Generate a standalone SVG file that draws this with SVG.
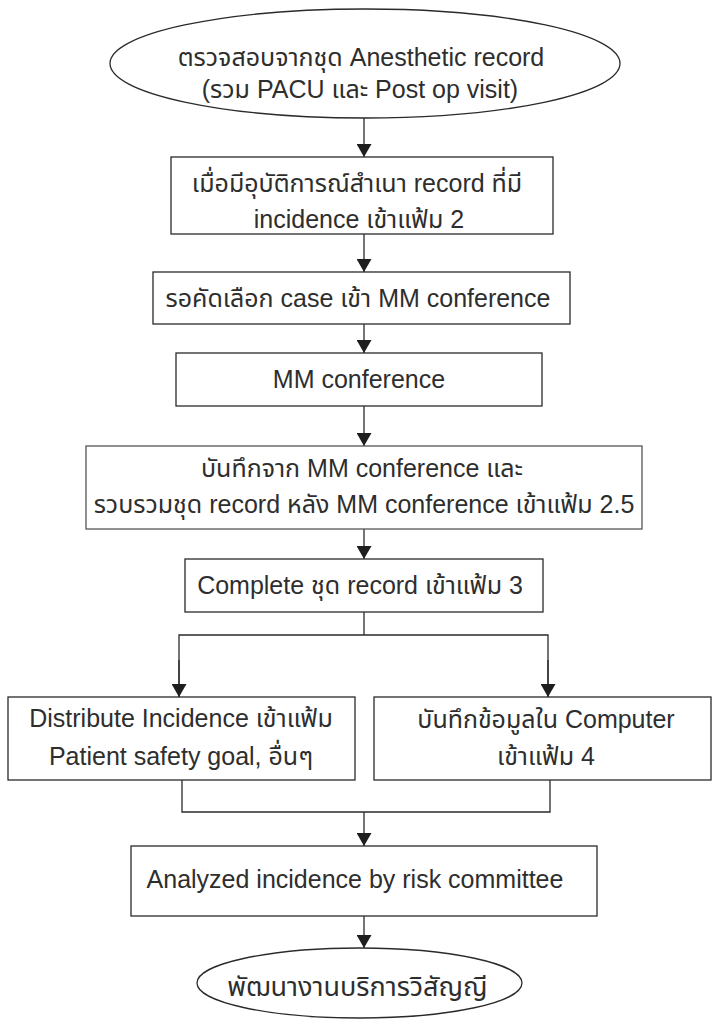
<svg xmlns="http://www.w3.org/2000/svg" width="712" height="1019" viewBox="0 0 712 1019">
  <defs>
    <marker id="arrow" markerUnits="userSpaceOnUse" markerWidth="15" markerHeight="15" refX="13" refY="7.5" orient="auto">
      <path d="M0,0 L13,7.5 L0,15 Z" fill="#1e1e1e"/>
    </marker>
    <style>
      .shape { fill: #ffffff; stroke: #2a2a2a; stroke-width: 1.3; }
      .txt { font-family: "Liberation Sans", "Noto Sans Thai", "Noto Sans", sans-serif; font-size: 25px; fill: #2e2e2e; text-anchor: middle; }
      .conn { fill: none; stroke: #2a2a2a; stroke-width: 1.3; }
    </style>
  </defs>
  <rect width="712" height="1019" fill="#ffffff"/>

  <g id="connectors">
    <line class="conn" x1="364" y1="118" x2="364" y2="157" marker-end="url(#arrow)"/>
    <line class="conn" x1="364" y1="234" x2="364" y2="272" marker-end="url(#arrow)"/>
    <line class="conn" x1="364" y1="324" x2="364" y2="353" marker-end="url(#arrow)"/>
    <line class="conn" x1="364" y1="406" x2="364" y2="446" marker-end="url(#arrow)"/>
    <line class="conn" x1="364" y1="529" x2="364" y2="559" marker-end="url(#arrow)"/>
    <polyline class="conn" points="364,612 364,635"/>
    <polyline class="conn" points="179,697 179,635 548,635 548,697"/>
    <line class="conn" x1="179" y1="660" x2="179" y2="697" marker-end="url(#arrow)"/>
    <line class="conn" x1="548" y1="660" x2="548" y2="697" marker-end="url(#arrow)"/>
    <polyline class="conn" points="182,780 182,812 550,812 550,780"/>
    <line class="conn" x1="364" y1="812" x2="364" y2="846" marker-end="url(#arrow)"/>
    <line class="conn" x1="364" y1="916" x2="364" y2="948" marker-end="url(#arrow)"/>
  </g>

  <g id="start">
    <ellipse class="shape" cx="365" cy="63.5" rx="255" ry="54.5"/>
    <text class="txt" x="361" y="66">ตรวจสอบจากชุด Anesthetic record</text>
    <text class="txt" x="360" y="98">(รวม PACU และ Post op visit)</text>
  </g>

  <g id="copy-record">
    <rect class="shape" x="171" y="157" width="382" height="77"/>
    <text class="txt" x="357" y="192">เมื่อมีอุบัติการณ์สำเนา record ที่มี</text>
    <text class="txt" x="359" y="228">incidence เข้าแฟ้ม 2</text>
  </g>

  <g id="select-case">
    <rect class="shape" x="153" y="272" width="417" height="52"/>
    <text class="txt" x="358" y="307">รอคัดเลือก case เข้า MM conference</text>
  </g>

  <g id="mm-conference">
    <rect class="shape" x="176" y="353" width="366" height="53"/>
    <text class="txt" x="359" y="388">MM conference</text>
  </g>

  <g id="mm-notes">
    <rect class="shape" x="86" y="446" width="556" height="83" style="stroke:#555"/>
    <text class="txt" x="362" y="477">บันทึกจาก  MM conference และ</text>
    <text class="txt" x="364" y="513">รวบรวมชุด record หลัง MM conference เข้าแฟ้ม 2.5</text>
  </g>

  <g id="complete">
    <rect class="shape" x="185" y="559" width="358" height="53"/>
    <text class="txt" x="360" y="594">Complete ชุด record เข้าแฟ้ม 3</text>
  </g>

  <g id="distribute">
    <rect class="shape" x="8" y="697" width="347" height="83"/>
    <text class="txt" x="181" y="727">Distribute Incidence เข้าแฟ้ม</text>
    <text class="txt" x="181" y="765">Patient safety goal, อื่นๆ</text>
  </g>

  <g id="computer">
    <rect class="shape" x="374" y="697" width="337" height="83"/>
    <text class="txt" x="546" y="728">บันทึกข้อมูลใน Computer</text>
    <text class="txt" x="546" y="765">เข้าแฟ้ม 4</text>
  </g>

  <g id="analyze">
    <rect class="shape" x="131" y="846" width="466" height="70"/>
    <text class="txt" x="355" y="888">Analyzed incidence by risk committee</text>
  </g>

  <g id="end">
    <ellipse class="shape" cx="359.5" cy="983" rx="162.5" ry="35"/>
    <text class="txt" x="357.5" y="996" style="font-size:27px">พัฒนางานบริการวิสัญญี</text>
  </g>
</svg>
